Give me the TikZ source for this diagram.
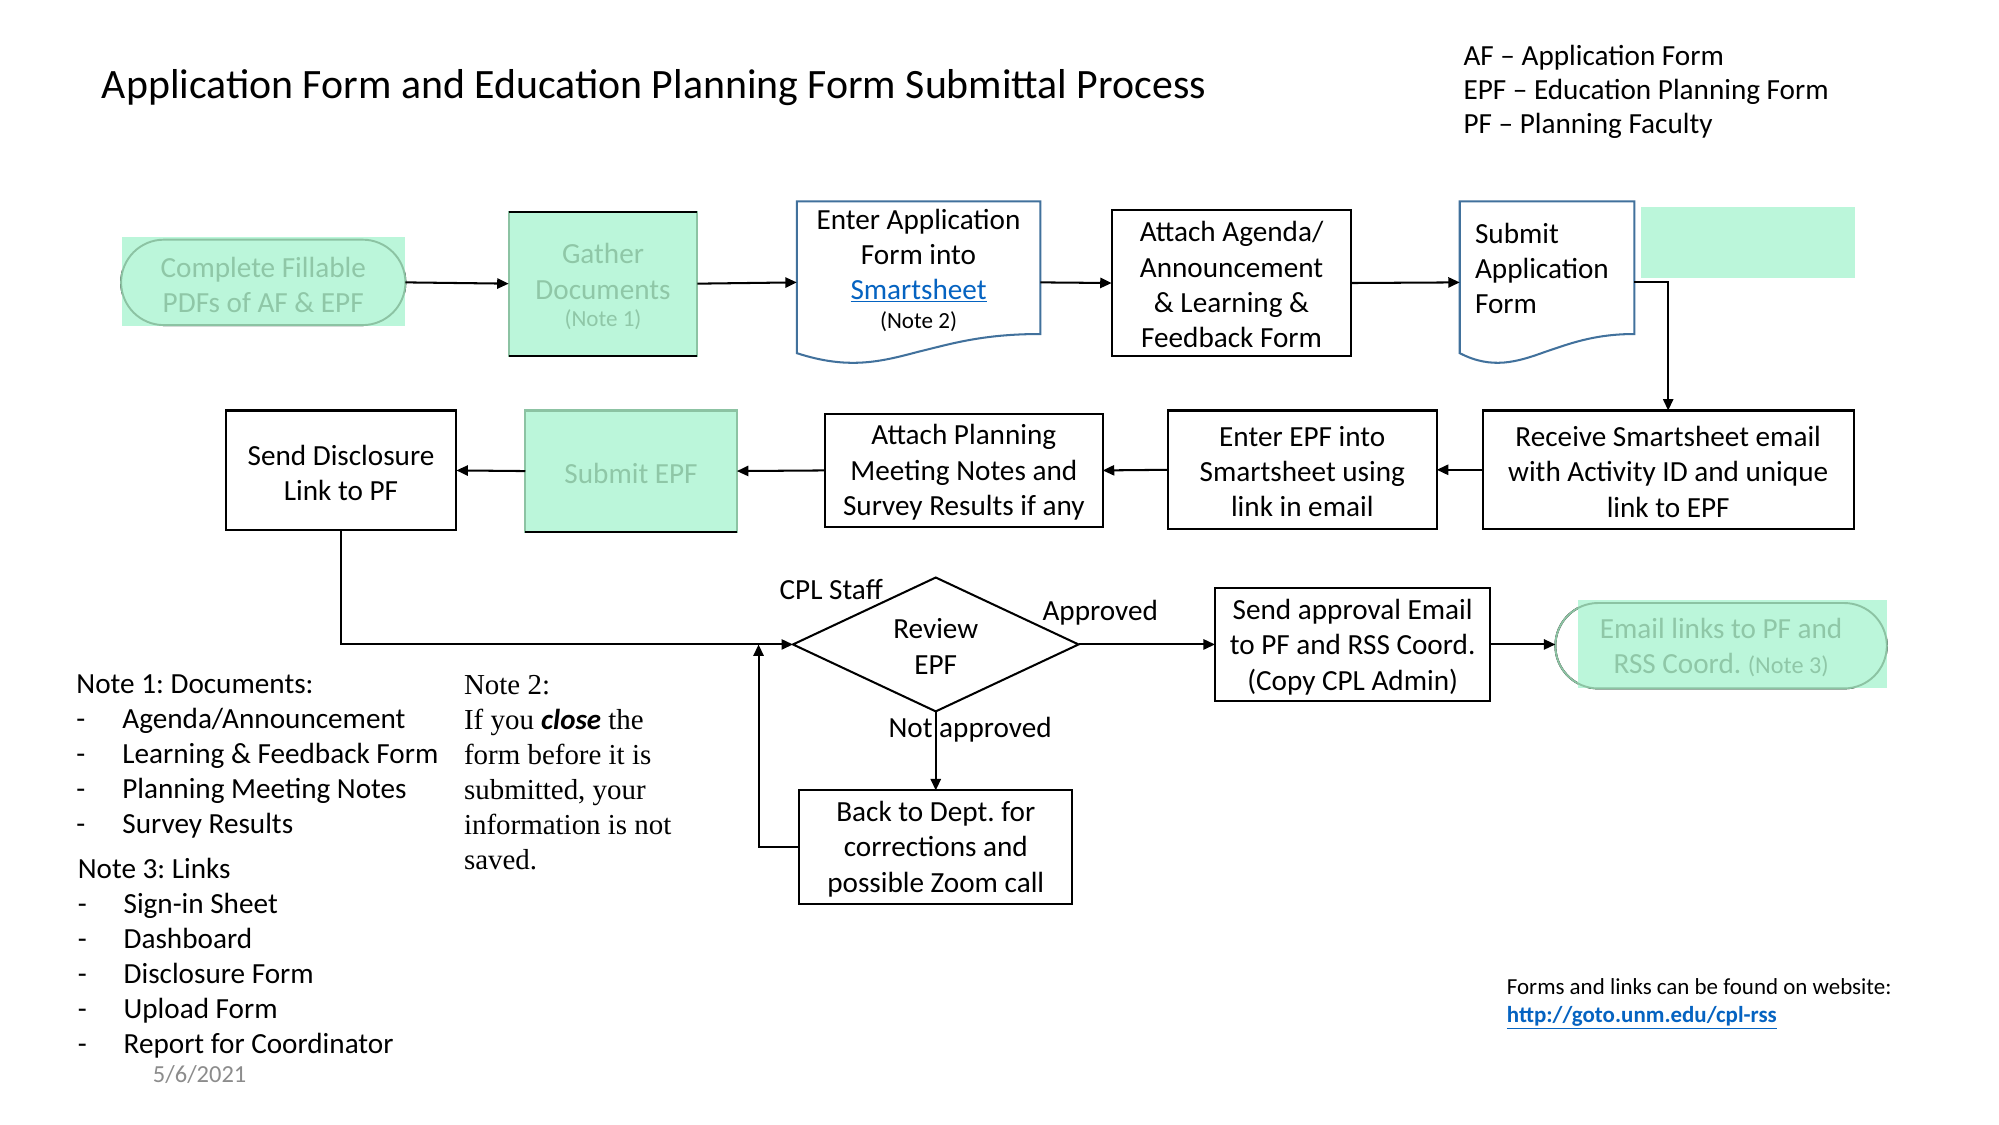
\documentclass[tikz,border=0pt]{standalone}
\usepackage{fontspec}
\setmainfont{Carlito}
\newfontfamily\tnr{Liberation Serif}
\usetikzlibrary{arrows.meta,shapes.geometric}
\definecolor{mint}{HTML}{BBF6DA}
\definecolor{paletext}{HTML}{8FC7A7}
\definecolor{paleedge}{HTML}{8CC3A3}
\definecolor{docblue}{HTML}{41719C}
\definecolor{linkblue}{HTML}{0563C1}
\definecolor{dategray}{HTML}{8C8C8C}
\frenchspacing
\begin{document}
\begin{tikzpicture}[x=1pt,y=-1pt,
  every node/.style={inner sep=0pt,outer sep=0pt},
  txt/.style={font=\fontsize{22.9}{27.7}\selectfont},
  small/.style={font=\fontsize{18.1}{20}\selectfont},
  line/.style={text height=0.72em,text depth=0.2em,yshift=-5.5pt},
  box/.style={draw=black,line width=1.6pt,align=center,txt},
  greenbox/.style={draw=paleedge,fill=mint,line width=1.6pt,align=center,txt,text=paletext},
  ghost/.style={draw=none},
  arr/.style={-{Triangle[length=9pt,width=8pt]},line width=1.6pt},
  docline/.style={docblue,line width=1.6pt}]

\fill[white] (0,0) rectangle (1568,882.4);
\useasboundingbox (0,0) rectangle (1568,882.4);

% title and legend
\node[anchor=west,font=\fontsize{32.8}{39}\selectfont,line] (title) at (80,69) {Application Form and Education Planning Form Submittal Process};
\node[anchor=west,txt,line] (leg1) at (1148,43) {AF – Application Form};
\node[anchor=west,txt,line] (leg2) at (1148,70) {EPF – Education Planning Form};
\node[anchor=west,txt,line] (leg3) at (1148,97) {PF – Planning Faculty};

% Complete fillable (stadium)
\draw[line width=1.5pt,rounded corners=33.5pt] (95,188) rectangle (318,255);
\fill[mint] (96,186) rectangle (318,256);
\draw[paleedge,line width=1.5pt,rounded corners=33.5pt] (95,188) rectangle (318,255);
\node[ghost,minimum width=223pt,minimum height=67pt] (complete) at (206.5,221.5) {};
\node[txt,align=center,text=paletext] (completetxt) at (206.5,223.5) {Complete Fillable\\PDFs of AF \& EPF};

% Gather documents
\node[greenbox,minimum width=148pt,minimum height=113pt] (gather) at (473,222.5) {};
\draw[line width=1.6pt] (gather.north west) -- (gather.north east);
\draw[line width=1.6pt] (gather.south west) -- (gather.south east);
\node[txt,align=center,text=paletext] (gathertxt) at (473,213) {Gather\\Documents};
\node[small,text=paletext] (note1ref) at (473,251) {(Note 1)};

% Enter application form (document)
\draw[docline] (625,158) -- (816,158) -- (816,262)
  .. controls (770,262) and (745,270) .. (720,276)
  .. controls (690,284) and (665,290) .. (625,277) -- cycle;
\node[ghost,minimum width=191pt,minimum height=127pt] (doc1) at (720.5,221.5) {};
\node[txt,align=center] (doc1txt) at (720.5,200.5) {Enter Application\\Form into\\\textcolor{linkblue}{\underline{Smartsheet}}};
\node[small] (note2ref) at (720.5,252) {(Note 2)};

% Attach agenda
\node[box,minimum width=188pt,minimum height=114pt] (attach1) at (966,222) {};
\node[txt,align=center] (attach1txt) at (966,223.5) {Attach Agenda/\\Announcement\\\& Learning \&\\Feedback Form};

% Submit application form (document)
\draw[docline] (1145,158) -- (1282,158) -- (1282,262)
  .. controls (1250,262) and (1230,270) .. (1212,276)
  .. controls (1190,284) and (1170,290) .. (1145,277) -- cycle;
\node[ghost,minimum width=137pt,minimum height=127pt] (doc2) at (1213.5,221.5) {};
\node[txt,align=left,anchor=west] (doc2txt) at (1157,210.5) {Submit\\Application\\Form};
\fill[mint] (1287,162) rectangle (1455,218);

% second row
\node[box,minimum width=291pt,minimum height=93pt] (receive) at (1308.5,368.5) {};
\node[txt,align=center] (receivetxt) at (1308.5,370) {Receive Smartsheet email\\with Activity ID and unique\\link to EPF};
\node[box,minimum width=211pt,minimum height=93pt] (enterepf) at (1021.5,368.5) {};
\node[txt,align=center] (enterepftxt) at (1021.5,370) {Enter EPF into\\Smartsheet using\\link in email};
\node[box,minimum width=218pt,minimum height=88pt] (attach2) at (756,369) {};
\node[txt,align=center] (attach2txt) at (756,370.5) {Attach Planning\\Meeting Notes and\\Survey Results if any};
\node[greenbox,minimum width=166pt,minimum height=95pt] (submitepf) at (495,369.5) {};
\node[txt,text=paletext] (submitepftxt) at (495,371) {Submit EPF};
\draw[line width=1.6pt] (submitepf.south west) -- (submitepf.south east);
\node[box,minimum width=181pt,minimum height=94pt] (send) at (267.5,369) {};
\node[txt,align=center] (sendtxt) at (267.5,371) {Send Disclosure\\Link to PF};

% review
\node[box,shape=diamond,minimum width=224pt,minimum height=105pt] (review) at (734,505.5) {};
\node[txt,align=center] (reviewtxt) at (734,507) {Review\\EPF};
\node[txt,line] (cpl) at (652,462) {CPL Staff};
\node[txt,line] (approved) at (863,479) {Approved};
\node[txt,line,anchor=west] (notappr) at (697,570) {Not approved};
\node[box,minimum width=214pt,minimum height=89pt] (back) at (734,664.5) {};
\node[txt,align=center] (backtxt) at (734,666) {Back to Dept. for\\corrections and\\possible Zoom call};
\node[box,minimum width=216pt,minimum height=89pt] (approval) at (1061,505.5) {};
\node[txt,align=center] (approvaltxt) at (1061,507.5) {Send approval Email\\to PF and RSS Coord.\\(Copy CPL Admin)};

% Email links (stadium)
\draw[line width=1.5pt,rounded corners=33.5pt] (1220,473) rectangle (1480,540);
\fill[mint] (1238,471) rectangle (1480,540);
\draw[paleedge,line width=1.5pt,rounded corners=33.5pt] (1220,473) rectangle (1480,540);
\node[ghost,minimum width=260pt,minimum height=67pt] (emaillinks) at (1350,506.5) {};
\node[txt,align=center,text=paletext] (emailtxt) at (1350,508) {Email links to PF and\\RSS Coord. {\fontsize{19}{20}\selectfont(Note 3)}};

\coordinate (merge) at (595,505.5);

% connectors
\draw[arr] (complete.east) -- (gather.west);
\draw[arr] (gather.east) -- (doc1.west);
\draw[arr] (doc1.east) -- (attach1.west);
\draw[arr] (attach1.east) -- (doc2.west);
\draw[arr] (doc2.east) -| (receive.north);
\draw[arr] (receive.west) -- (enterepf.east);
\draw[arr] (enterepf.west) -- (attach2.east);
\draw[arr] (attach2.west) -- (submitepf.east);
\draw[arr] (submitepf.west) -- (send.east);
\draw[arr] (send.south) |- (review.west);
\draw[arr] (review.east) -- (approval.west);
\draw[arr] (approval.east) -- (approval.east -| emaillinks.west);
\draw[arr] (review.south) -- (back.north);
\draw[arr] (back.west) -| (merge);

% notes
\node[txt,line,anchor=west] (n1h) at (60,536) {Note 1: Documents:};
\foreach \t [count=\i] in {Agenda/Announcement,Learning \& Feedback Form,Planning Meeting Notes,Survey Results}
  \node[txt,line,anchor=west] (n1i\i) at (60,536+27.5*\i) {\makebox[36pt][l]{-}\t};
\node[txt,line,anchor=west] (n3h) at (61,681) {Note 3: Links};
\foreach \t [count=\i] in {Sign-in Sheet,Dashboard,Disclosure Form,Upload Form,Report for Coordinator}
  \node[txt,line,anchor=west] (n3i\i) at (61,681+27.4*\i) {\makebox[36pt][l]{-}\t};
\node[anchor=west,line,font=\fontsize{19.2}{22}\selectfont,text=dategray] (date) at (120,841) {5/6/2021};

\node[anchor=north west,align=left,font=\tnr\fontsize{22.7}{27.4}\selectfont] (note2) at (364,530)
  {Note 2:\\If you {\rmfamily\bfseries\itshape close} the\\form before it is\\submitted, your\\information is not\\saved.};

% footer
\node[anchor=west,line,font=\fontsize{18}{20}\selectfont] (foot1) at (1182,772) {Forms and links can be found on website:};
\node[anchor=west,line,font=\fontsize{18}{20}\selectfont\bfseries,text=linkblue] (foot2) at (1182,794) {\underline{http://goto.unm.edu/cpl-rss}};
\end{tikzpicture}
\end{document}
